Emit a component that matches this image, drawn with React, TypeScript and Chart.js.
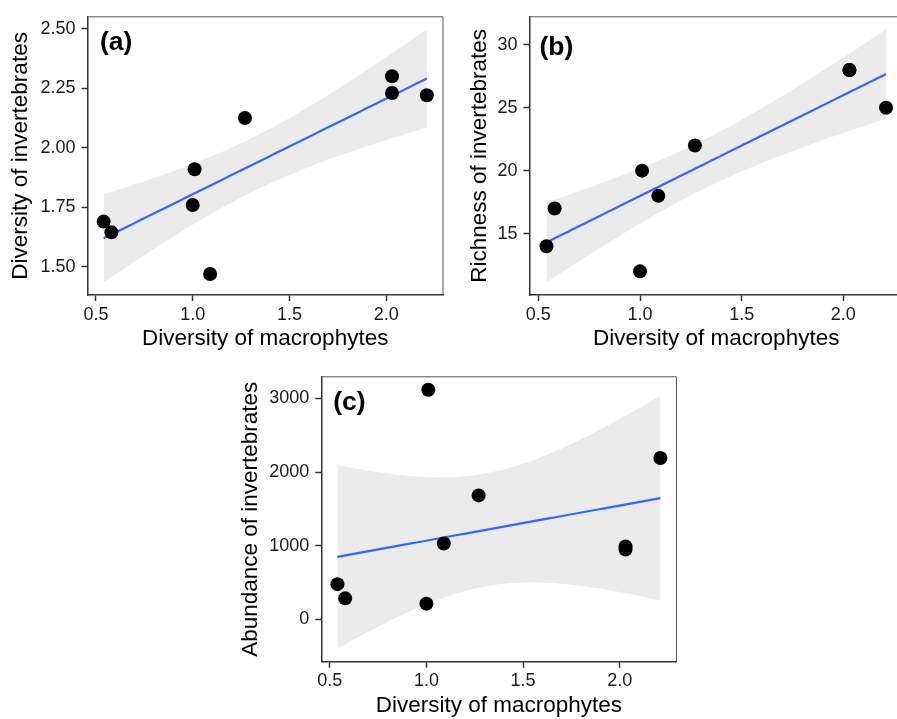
import React, { useEffect, useRef } from 'react';
import { Chart, registerables } from 'chart.js';

Chart.register(...registerables);

// ---- Data ----
const macrophyteDiversity = [0.54, 0.58, 1.0, 1.01, 1.09, 1.27, 2.03, 2.03, 2.21];
const invertebrateDiversity = [1.69, 1.645, 1.76, 1.91, 1.47, 2.125, 2.3, 2.23, 2.22];
const invertebrateRichness = [14, 17, 12, 20, 18, 22, 28, 28, 25];
const invertebrateAbundance = [480, 287, 215, 3118, 1031, 1684, 990, 950, 2191];

const xTicks = [0.5, 1.0, 1.5, 2.0];
const xTickLabels = ['0.5', '1.0', '1.5', '2.0'];
const yTicksA = [1.5, 1.75, 2.0, 2.25, 2.5];
const yTickLabelsA = ['1.50', '1.75', '2.00', '2.25', '2.50'];
const yTicksB = [15, 20, 25, 30];
const yTickLabelsB = ['15', '20', '25', '30'];
const yTicksC = [0, 1000, 2000, 3000];
const yTickLabelsC = ['0', '1000', '2000', '3000'];

const panelLabels = ['(a)', '(b)', '(c)'];
const xTitle = 'Diversity of macrophytes';
const yTitles = ['Diversity of invertebrates', 'Richness of invertebrates', 'Abundance of invertebrates'];
// critical values used for the confidence ribbons
const critValues = [1.96, 1.96, 2.3646];

const FONT = "'Liberation Sans', Arial, Helvetica, sans-serif";

function fitLm(xs: number[], ys: number[], crit: number, n = 80) {
  const N = xs.length;
  const mx = xs.reduce((a, b) => a + b, 0) / N;
  const my = ys.reduce((a, b) => a + b, 0) / N;
  let sxx = 0, sxy = 0;
  for (let i = 0; i < N; i++) {
    sxx += (xs[i] - mx) ** 2;
    sxy += (xs[i] - mx) * (ys[i] - my);
  }
  const b = sxy / sxx;
  const a = my - b * mx;
  let sse = 0;
  for (let i = 0; i < N; i++) sse += (ys[i] - a - b * xs[i]) ** 2;
  const s = Math.sqrt(sse / (N - 2));
  const xmin = Math.min(...xs), xmax = Math.max(...xs);
  const fit: any[] = [], lo: any[] = [], hi: any[] = [];
  for (let k = 0; k < n; k++) {
    const x = xmin + ((xmax - xmin) * k) / (n - 1);
    const yh = a + b * x;
    const se = s * Math.sqrt(1 / N + (x - mx) ** 2 / sxx);
    fit.push({ x, y: yh });
    lo.push({ x, y: yh - crit * se });
    hi.push({ x, y: yh + crit * se });
  }
  return { fit, lo, hi, xmin, xmax };
}

type Geo = {
  x: number; y: number; W: number; H: number;
  l: number; t: number; r: number; b: number;
  yTitlePad: number; xTitlePad: number; labDx: number; labDy: number;
};

const geos: Geo[] = [
  { x: 0, y: 0, W: 450, H: 360, l: 87.5, t: 9.5, r: 447, b: 295, yTitlePad: 6.8, xTitlePad: 7.3, labDx: 12.5, labDy: 26.3 },
  { x: 450, y: 0, W: 460, H: 360, l: 79.5, t: 9.5, r: 455.9, b: 295, yTitlePad: 16.2, xTitlePad: 7.3, labDx: 10, labDy: 31.3 },
  { x: 230, y: 360, W: 459, H: 359, l: 91.3, t: 15, r: 446.5, b: 301.7, yTitlePad: 7.2, xTitlePad: 0, labDx: 12, labDy: 25.8 },
];

function Panel(props: { idx: number; ys: number[]; yTicks: number[]; yLabels: string[] }) {
  const ref = useRef<HTMLCanvasElement | null>(null);
  const { idx, ys, yTicks, yLabels } = props;
  const g = geos[idx];

  useEffect(() => {
    if (!ref.current) return;
    const xs = macrophyteDiversity;
    const m = fitLm(xs, ys, critValues[idx]);
    const xr = m.xmax - m.xmin;
    const yLo = Math.min(...ys, ...m.lo.map((p: any) => p.y));
    const yHi = Math.max(...ys, ...m.hi.map((p: any) => p.y));
    const yr = yHi - yLo;
    const points = xs.map((x, i) => ({ x, y: ys[i] }));

    const decor = {
      id: 'decor' + idx,
      afterDraw(chart: any) {
        const { ctx, chartArea: ca } = chart;
        ctx.save();
        ctx.strokeStyle = '#555';
        ctx.lineWidth = 1;
        ctx.beginPath();
        ctx.moveTo(ca.left, ca.top);
        ctx.lineTo(ca.right, ca.top);
        ctx.lineTo(ca.right, ca.bottom);
        ctx.stroke();
        ctx.fillStyle = '#000';
        ctx.font = `bold 26.5px ${FONT}`;
        ctx.textAlign = 'left';
        ctx.textBaseline = 'middle';
        ctx.fillText(panelLabels[idx], ca.left + g.labDx, ca.top + g.labDy);
        ctx.restore();
      },
    };

    const tickGrid = {
      display: true,
      drawOnChartArea: false,
      drawTicks: true,
      tickLength: 6,
      tickColor: '#333',
      tickWidth: 1.5,
    };

    const chart = new Chart(ref.current, {
      type: 'scatter',
      data: {
        datasets: [
          {
            type: 'line', data: m.hi, fill: '+1', backgroundColor: '#EBEBEB',
            borderColor: 'rgba(0,0,0,0)', borderWidth: 0, pointRadius: 0, tension: 0, order: 3,
          } as any,
          {
            type: 'line', data: m.lo, fill: false, backgroundColor: '#EBEBEB',
            borderColor: 'rgba(0,0,0,0)', borderWidth: 0, pointRadius: 0, tension: 0, order: 3,
          } as any,
          {
            type: 'line', data: m.fit, fill: false, borderColor: '#3366FF',
            borderWidth: 2.2, pointRadius: 0, tension: 0, order: 2,
          } as any,
          {
            type: 'scatter', data: points, backgroundColor: '#000', borderColor: '#000',
            borderWidth: 0, pointRadius: 7, order: 1,
          } as any,
        ],
      },
      options: {
        animation: false,
        responsive: false,
        events: [],
        layout: { padding: { left: 0, top: g.t, right: g.W - g.r, bottom: 0 } },
        plugins: {
          legend: { display: false },
          tooltip: { enabled: false },
          filler: { propagate: false },
        } as any,
        scales: {
          x: {
            type: 'linear',
            min: m.xmin - 0.05 * xr,
            max: m.xmax + 0.05 * xr,
            afterBuildTicks: (s: any) => { s.ticks = xTicks.map((v) => ({ value: v })); },
            afterFit: (s: any) => { s.height = g.H - g.b; },
            ticks: {
              autoSkip: false, maxRotation: 0, minRotation: 0, padding: 3,
              color: '#1a1a1a', font: { family: FONT, size: 18 },
              callback: (_v: any, i: number) => xTickLabels[i],
            },
            grid: tickGrid as any,
            border: { display: true, color: '#333', width: 1.5 },
            title: {
              display: true, text: xTitle, color: '#000',
              font: { family: FONT, size: 22.5 },
              padding: { top: 0, bottom: g.xTitlePad },
            },
          },
          y: {
            type: 'linear',
            min: yLo - 0.05 * yr,
            max: yHi + 0.05 * yr,
            afterBuildTicks: (s: any) => { s.ticks = yTicks.map((v) => ({ value: v })); },
            afterFit: (s: any) => { s.width = g.l; },
            ticks: {
              autoSkip: false, padding: 6,
              color: '#1a1a1a', font: { family: FONT, size: 18 },
              callback: (_v: any, i: number) => yLabels[i],
            },
            grid: tickGrid as any,
            border: { display: true, color: '#333', width: 1.5 },
            title: {
              display: true, text: yTitles[idx], color: '#000',
              font: { family: FONT, size: 22.5 },
              padding: { top: g.yTitlePad, bottom: 0 },
            },
          },
        },
      } as any,
      plugins: [decor],
    });
    return () => chart.destroy();
  }, []);

  return (
    <canvas
      ref={ref}
      width={g.W}
      height={g.H}
      style={{ position: 'absolute', left: g.x, top: g.y, width: g.W, height: g.H }}
    />
  );
}

export default function App() {
  return (
    <div
      style={{
        position: 'absolute', left: 0, top: 0, width: 897, height: 719,
        overflow: 'hidden', background: '#fff',
      }}
    >
      <Panel idx={0} ys={invertebrateDiversity} yTicks={yTicksA} yLabels={yTickLabelsA} />
      <Panel idx={1} ys={invertebrateRichness} yTicks={yTicksB} yLabels={yTickLabelsB} />
      <Panel idx={2} ys={invertebrateAbundance} yTicks={yTicksC} yLabels={yTickLabelsC} />
    </div>
  );
}
